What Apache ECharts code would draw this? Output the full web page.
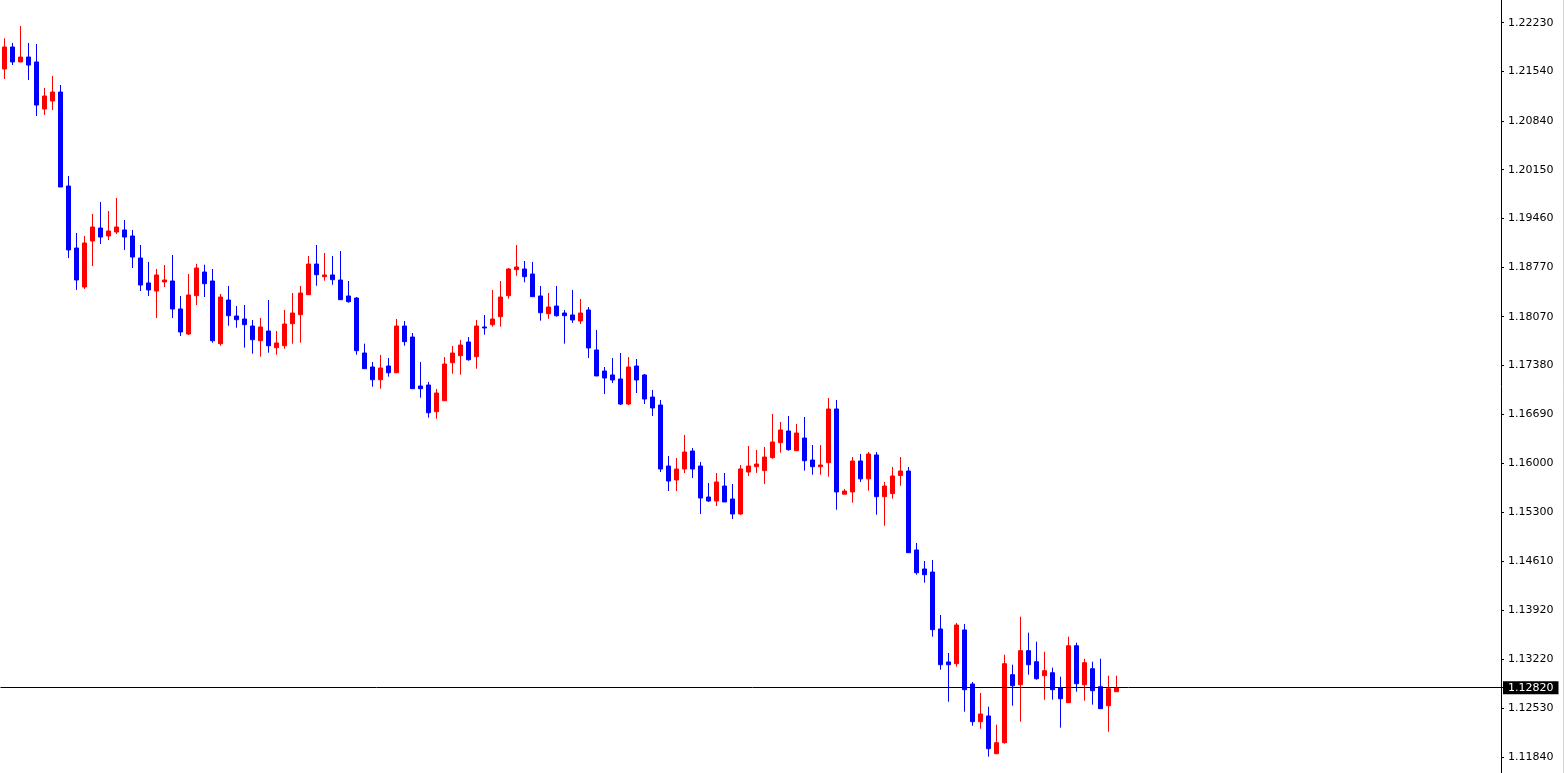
<!DOCTYPE html>
<html>
<head>
<meta charset="utf-8">
<script src="https://cdn.jsdelivr.net/npm/echarts@6/dist/echarts.min.js"></script>
<style>
html,body{margin:0;padding:0;background:#fff;}
#chart{width:1566px;height:773px;}
</style>
</head>
<body>
<div id="chart"></div>
<script>
// ---- data (oldest bar first) ----
const opens = [
1.21575,1.21886,1.21674,1.21744,1.21674,1.21009,1.21122,1.21249,1.19919,1.19042,
1.18490,1.19141,1.19325,1.19212,1.19268,1.19297,1.19212,1.18900,1.18547,1.18433,
1.18561,1.18575,1.18179,1.17825,1.18367,1.18702,1.18575,1.17688,1.18306,1.18080,
1.18037,1.17938,1.17730,1.17867,1.17631,1.17659,1.17971,1.18098,1.18381,1.18815,
1.18636,1.18660,1.18589,1.18363,1.18334,1.17556,1.17358,1.17178,1.17372,1.17277,
1.17938,1.17782,1.17089,1.17103,1.16725,1.16881,1.17419,1.17518,1.17712,1.17504,
1.17924,1.17957,1.18070,1.18367,1.18735,1.18745,1.18674,1.18363,1.18112,1.18221,
1.18122,1.18094,1.18009,1.18165,1.17599,1.17301,1.17245,1.17188,1.16834,1.17372,
1.17245,1.16933,1.16820,1.15957,1.15759,1.15915,1.16169,1.15957,1.15518,1.15462,
1.15674,1.15490,1.15278,1.15872,1.15947,1.15892,1.16075,1.16287,1.16452,1.16174,
1.16353,1.16042,1.15947,1.16004,1.16764,1.15558,1.15590,1.16028,1.15775,1.16113,
1.15523,1.15566,1.15824,1.15886,1.14769,1.14500,1.14457,1.13651,1.13184,1.13160,
1.13637,1.12872,1.12339,1.12420,1.11886,1.12042,1.13004,1.12862,1.13344,1.13188,
1.12990,1.13032,1.12820,1.12608,1.13414,1.12862,1.13089,1.12834,1.12565,1.12763
];
const closes = [
1.21886,1.21674,1.21744,1.21631,1.21065,1.21193,1.21249,1.19905,1.19014,1.18589,
1.19113,1.19339,1.19197,1.19282,1.19339,1.19197,1.18914,1.18518,1.18448,1.18660,
1.18589,1.18179,1.17853,1.18377,1.18759,1.18537,1.17730,1.18348,1.18084,1.18027,
1.17957,1.17744,1.17924,1.17659,1.17698,1.17966,1.18122,1.18405,1.18815,1.18664,
1.18660,1.18593,1.18310,1.18282,1.17589,1.17334,1.17178,1.17344,1.17277,1.17938,
1.17716,1.17051,1.17051,1.16711,1.16990,1.17400,1.17556,1.17669,1.17461,1.17938,
1.17910,1.18037,1.18348,1.18745,1.18773,1.18636,1.18353,1.18126,1.18207,1.18084,
1.18084,1.18023,1.18122,1.17627,1.17231,1.17202,1.17174,1.16834,1.17358,1.17174,
1.16905,1.16778,1.15915,1.15745,1.15915,1.16155,1.15915,1.15504,1.15462,1.15731,
1.15448,1.15278,1.15915,1.15957,1.15985,1.16084,1.16297,1.16467,1.16188,1.16424,
1.16032,1.15947,1.15971,1.16764,1.15590,1.15603,1.16028,1.15775,1.16127,1.15523,
1.15674,1.15816,1.15886,1.14730,1.14447,1.14419,1.13641,1.13145,1.13145,1.13707,
1.12792,1.12339,1.12448,1.11957,1.12042,1.13160,1.12848,1.13344,1.13145,1.12947,
1.13061,1.12792,1.12664,1.13414,1.12877,1.13174,1.12778,1.12523,1.12806,1.12820
];
const lows = [
1.21433,1.21631,1.21674,1.21419,1.20910,1.20924,1.20995,1.19905,1.18900,1.18448,
1.18462,1.18787,1.19098,1.19155,1.19240,1.19014,1.18759,1.18433,1.18363,1.18051,
1.18490,1.18051,1.17797,1.17811,1.18235,1.18348,1.17702,1.17659,1.17942,1.17914,
1.17631,1.17546,1.17504,1.17560,1.17532,1.17617,1.17688,1.17702,1.18377,1.18508,
1.18579,1.18522,1.18310,1.18268,1.17532,1.17334,1.17079,1.17051,1.17221,1.17277,
1.17659,1.17051,1.16924,1.16641,1.16626,1.16881,1.17263,1.17249,1.17447,1.17334,
1.17815,1.17928,1.17928,1.18325,1.18650,1.18556,1.18353,1.18013,1.18041,1.18070,
1.17688,1.17981,1.17966,1.17485,1.17231,1.16976,1.17132,1.16820,1.16820,1.16990,
1.16834,1.16665,1.15872,1.15603,1.15603,1.15858,1.15787,1.15278,1.15448,1.15391,
1.15448,1.15207,1.15264,1.15816,1.15859,1.15702,1.16060,1.16145,1.16174,1.16174,
1.15892,1.15834,1.15834,1.15806,1.15339,1.15558,1.15438,1.15731,1.15607,1.15268,
1.15112,1.15495,1.15678,1.14730,1.14419,1.14306,1.13542,1.13075,1.12622,1.13117,
1.12480,1.12282,1.12240,1.11844,1.11886,1.12028,1.12565,1.12339,1.13004,1.12933,
1.12650,1.12650,1.12254,1.12608,1.12763,1.12636,1.12580,1.12523,1.12197,1.12763
];
const highs = [
1.22009,1.21943,1.22183,1.21943,1.21928,1.21306,1.21476,1.21348,1.20061,1.19254,
1.19212,1.19523,1.19693,1.19565,1.19749,1.19438,1.19297,1.19084,1.18844,1.18745,
1.18801,1.18943,1.18363,1.18674,1.18819,1.18805,1.18745,1.18391,1.18504,1.18221,
1.18235,1.18023,1.18051,1.18306,1.17867,1.18165,1.18405,1.18504,1.18929,1.19084,
1.18971,1.18929,1.18999,1.18575,1.18348,1.17688,1.17429,1.17528,1.17485,1.18037,
1.18009,1.17839,1.17429,1.17146,1.17047,1.17499,1.17655,1.17740,1.17782,1.18023,
1.18094,1.18448,1.18575,1.18759,1.19084,1.18858,1.18844,1.18504,1.18405,1.18504,
1.18165,1.18448,1.18320,1.18207,1.17882,1.17358,1.17485,1.17556,1.17499,1.17471,
1.17259,1.17033,1.16891,1.16099,1.16070,1.16396,1.16212,1.16014,1.15717,1.15858,
1.15858,1.15702,1.15971,1.16240,1.16184,1.16226,1.16693,1.16580,1.16665,1.16551,
1.16651,1.16254,1.16254,1.16919,1.16891,1.15632,1.16084,1.16127,1.16155,1.16155,
1.15731,1.15943,1.16084,1.15943,1.14868,1.14613,1.14627,1.13849,1.13311,1.13736,
1.13721,1.12901,1.12745,1.12551,1.12296,1.13287,1.13145,1.13825,1.13598,1.13471,
1.13329,1.13103,1.12976,1.13542,1.13457,1.13230,1.13188,1.13230,1.12990,1.12990
];
// price scale tick labels on the right axis
const yTickValues = [
1.11840,1.12530,1.13220,1.13920,1.14610,1.15300,1.16000,1.16690,
1.17380,1.18070,1.18770,1.19460,1.20150,1.20840,1.21540,1.22230
];
const yMin = 1.11613, yMax = 1.22551;   // visible price range
const emptyBarsRight = 48;               // chart shift (empty space right of last bar)

// ---- build ----
const categories = opens.map((_, i) => 'bar' + (i + 1))
  .concat(Array.from({length: emptyBarsRight}, (_, i) => 'pad' + (i + 1)));
const candleData = opens.map((o, i) => [o, closes[i], lows[i], highs[i]]);
const lastPrice = closes[closes.length - 1];
const FONT = 'DejaVu Sans';

const chart = echarts.init(document.getElementById('chart'), null, {renderer: 'canvas'});
chart.setOption({
  animation: false,
  backgroundColor: '#ffffff',
  grid: {left: 0.5, top: 0, width: 1504, bottom: 0, containLabel: false, show: false},
  xAxis: {
    type: 'category',
    data: categories,
    boundaryGap: true,
    axisLine: {show: false},
    axisTick: {show: false},
    axisLabel: {show: false},
    splitLine: {show: false}
  },
  yAxis: {
    type: 'value',
    position: 'right',
    offset: -3.5,
    min: yMin,
    max: yMax,
    scale: true,
    axisLine: {show: true, lineStyle: {color: '#000', width: 1}},
    axisTick: {show: true, inside: false, length: 3, lineStyle: {color: '#000', width: 1}, customValues: yTickValues},
    axisLabel: {
      show: true, color: '#000', fontFamily: FONT, fontSize: 11, margin: 7,
      customValues: yTickValues,
      formatter: v => Number(v).toFixed(5)
    },
    splitLine: {show: false}
  },
  graphic: [{
    type: 'line', silent: true,
    shape: {x1: 1563.5, y1: 0, x2: 1563.5, y2: 773},
    style: {stroke: '#d4d4d4', lineWidth: 1}
  }],
  series: [{
    type: 'candlestick',
    data: candleData,
    barWidth: 4,
    itemStyle: {
      color: '#ff0000', color0: '#0000ff',
      borderColor: '#ff0000', borderColor0: '#0000ff',
      borderWidth: 1
    },
    markLine: {
      silent: true,
      precision: 5,
      symbol: ['none', 'none'],
      animation: false,
      lineStyle: {color: '#000', width: 1, type: 'solid'},
      label: {
        show: true, position: 'end', distance: -1.5,
        formatter: p => Number(p.value).toFixed(5),
        backgroundColor: '#000', color: '#fff',
        fontFamily: FONT, fontSize: 11, lineHeight: 13,
        padding: [0, 5, 0, 5]
      },
      emphasis: {disabled: true},
      data: [{yAxis: lastPrice}]
    }
  }]
});
</script>
</body>
</html>
